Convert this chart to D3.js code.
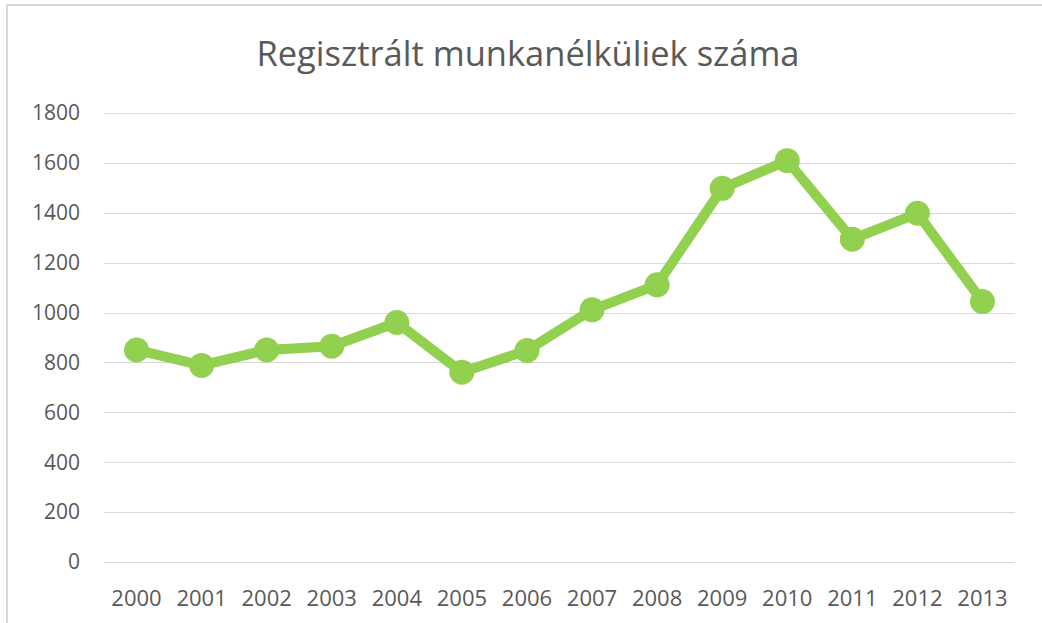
<!DOCTYPE html>
<head>
<meta charset="utf-8">
<style>
body { margin: 0; background: #fff; }
text { font-family: "Open Sans", sans-serif; fill: #595959; }
.grid line { stroke: #d9d9d9; stroke-width: 1px; }
.line { fill: none; stroke: #92d050; stroke-width: 10px; stroke-linejoin: round; }
.dot { fill: #92d050; }
</style>
</head>
<body>
<svg width="1042" height="623"></svg>
<script src="https://cdn.jsdelivr.net/npm/d3@7"></script>
<script>

var years = ["2000","2001","2002","2003","2004","2005","2006","2007","2008","2009","2010","2011","2012","2013"];
var values = [850, 788, 850, 865, 960, 761, 848, 1011, 1111, 1498, 1609, 1294, 1398, 1044];
var yTicks = [0, 200, 400, 600, 800, 1000, 1200, 1400, 1600, 1800];
var title = "Regisztrált munkanélküliek száma";

var svg = d3.select("svg");

// chart area frame
svg.append("rect")
    .attr("x", 7).attr("y", 5)
    .attr("width", 1060).attr("height", 640)
    .attr("fill", "none")
    .attr("stroke", "#d9d9d9")
    .attr("stroke-width", 2);

var x = d3.scaleBand().domain(years).range([104, 1015]),
    y = d3.scaleLinear().domain([0, 1800]).range([562, 113]);

svg.append("text")
    .attr("x", 528).attr("y", 66)
    .attr("text-anchor", "middle")
    .style("font-size", "34.5px")
    .text(title);

var grid = svg.append("g").attr("class", "grid");
grid.selectAll("line")
    .data(yTicks)
  .enter().append("line")
    .attr("x1", 104).attr("x2", 1015)
    .attr("y1", function(d) { return Math.round(y(d)) + 0.5; })
    .attr("y2", function(d) { return Math.round(y(d)) + 0.5; });

svg.append("g").selectAll("text")
    .data(yTicks)
  .enter().append("text")
    .attr("x", 80)
    .attr("y", function(d) { return y(d); })
    .attr("dy", "0.35em")
    .attr("text-anchor", "end")
    .style("font-size", "21px")
    .text(function(d) { return d; });

svg.append("g").selectAll("text")
    .data(years)
  .enter().append("text")
    .attr("x", function(d) { return x(d) + x.bandwidth() / 2; })
    .attr("y", 598)
    .attr("dy", "0.35em")
    .attr("text-anchor", "middle")
    .style("font-size", "22px")
    .text(function(d) { return d; });

var pts = years.map(function(d, i) { return [x(d) + x.bandwidth() / 2, y(values[i])]; });

svg.append("path")
    .attr("class", "line")
    .attr("d", d3.line()(pts));

svg.append("g").selectAll("circle")
    .data(pts)
  .enter().append("circle")
    .attr("class", "dot")
    .attr("cx", function(d) { return d[0]; })
    .attr("cy", function(d) { return d[1]; })
    .attr("r", 12.5);

</script>
</body>
